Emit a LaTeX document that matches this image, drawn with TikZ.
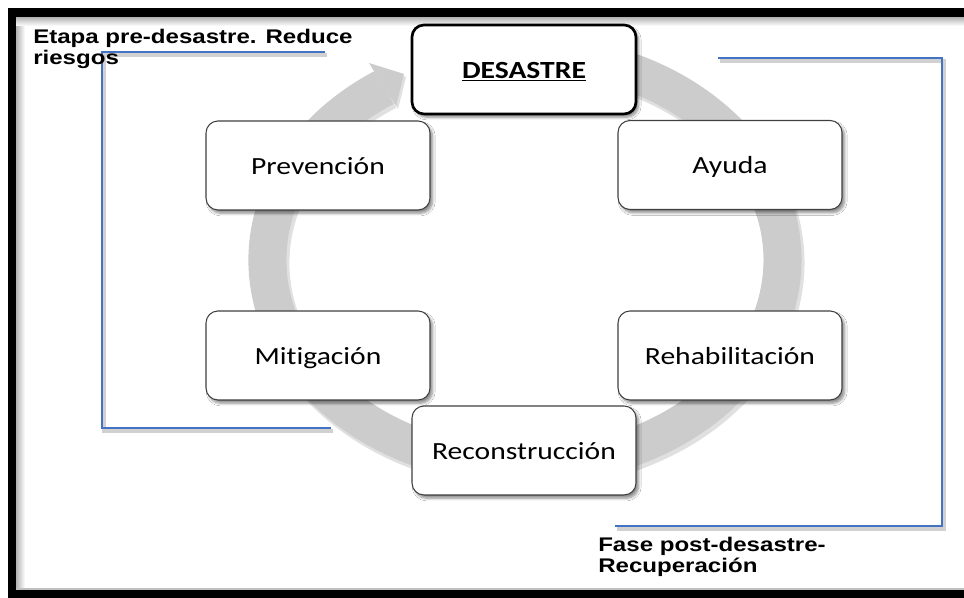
\documentclass[tikz,border=0pt]{standalone}
\usepackage{fontspec}
\setmainfont{Carlito}[FakeStretch=1.2, Ligatures=CommonOff]
\newfontfamily\headfont{Liberation Sans}[FakeStretch=1.22]
\usetikzlibrary{shadows.blur}
\definecolor{ringgray}{RGB}{204,204,204}
\definecolor{bracketblue}{RGB}{68,114,196}
\tikzset{
  box/.style={draw=black!75, line width=0.8pt, fill=white, rounded corners=9pt,
    minimum width=168pt, minimum height=66.75pt, inner sep=0pt,
    text height=15pt, text depth=1.5pt,
    font=\fontsize{18.5}{22}\selectfont,
    blur shadow={shadow xshift=2pt, shadow yshift=-2.5pt, shadow blur steps=6, shadow opacity=45}},
  mainbox/.style={box, draw=black, line width=2pt, font=\fontsize{18.5}{22}\selectfont\bfseries},
  bracket/.style={draw=bracketblue, line width=1.6pt},
  bracketshadow/.style={draw=black!18, line width=2.6pt},
  headtext/.style={anchor=base west, inner sep=0pt,
    font=\headfont\bfseries\fontsize{14.8}{17}\selectfont},
}
\begin{document}
\begin{tikzpicture}[x=0.75pt,y=0.75pt]
\fill[white] (0,0) rectangle (964,598);
\useasboundingbox (0,0) rectangle (964,598);
% frame inner shadow
\shade[left color=gray!60, right color=white] (16,8) rectangle (25,581);
\shade[top color=gray!60, bottom color=white] (16,581) rectangle (964,572);
\fill[gray!50] (16,8) rectangle (964,10);
% black frame
\fill[black] (8,590) rectangle (964,581);
\fill[black] (8,590) rectangle (16,0);
\fill[black] (8,8) rectangle (964,0);

% cycle ring
\coordinate (ringstart) at (591.6,537);
\coordinate (headA) at (369,535);
\coordinate (headB) at (396,492);
\coordinate (headTip) at (404,524);
\draw[line width=30pt, draw=black!12] ([shift={(2,-3)}]ringstart) arc[start angle=75, end angle=-237, x radius=193.125pt, y radius=154.5pt];
\draw[line width=28.5pt, draw=ringgray] (ringstart) arc[start angle=75, end angle=-237, x radius=193.125pt, y radius=154.5pt];
\fill[black!12] ([shift={(2,-3)}]headA) -- ([shift={(2,-3)}]headTip) -- ([shift={(2,-3)}]headB) -- cycle;
\fill[ringgray] (headA) -- (headTip) -- (headB) -- cycle;

% brackets
\coordinate (l1) at (325,546);
\coordinate (l2) at (102,546);
\coordinate (l3) at (102,170);
\coordinate (l4) at (331,170);
\coordinate (r1) at (718,540);
\coordinate (r2) at (942,540);
\coordinate (r3) at (942,72);
\coordinate (r4) at (615,72);
\draw[bracketshadow] ([shift={(2,-3)}]l1) -- ([shift={(2,-3)}]l2) -- ([shift={(2,-3)}]l3) -- ([shift={(2,-3)}]l4);
\draw[bracketshadow] ([shift={(2,-3)}]r1) -- ([shift={(2,-3)}]r2) -- ([shift={(2,-3)}]r3) -- ([shift={(2,-3)}]r4);
\draw[bracket] (l1) -- (l2) -- (l3) -- (l4);
\draw[bracket] (r1) -- (r2) -- (r3) -- (r4);

% nodes
\node[mainbox] (desastre) at (524,528.5) {\underline{DESASTRE}};
\node[box] (prevencion) at (318,432.5) {Prevención};
\node[box] (ayuda) at (730,433) {Ayuda};
\node[box] (mitigacion) at (318,242.5) {Mitigación};
\node[box] (rehab) at (730,242.5) {Rehabilitación};
\node[box] (reconst) at (524,147.5) {Reconstrucción};

% header texts
\node[headtext] (pre1) at (33,554) {Etapa pre-desastre. Reduce};
\node[headtext] (pre2) at (33,533) {riesgos};
\node[headtext] (post1) at (598,46) {Fase post-desastre-};
\node[headtext] (post2) at (598,25) {Recuperación};
\end{tikzpicture}
\end{document}
